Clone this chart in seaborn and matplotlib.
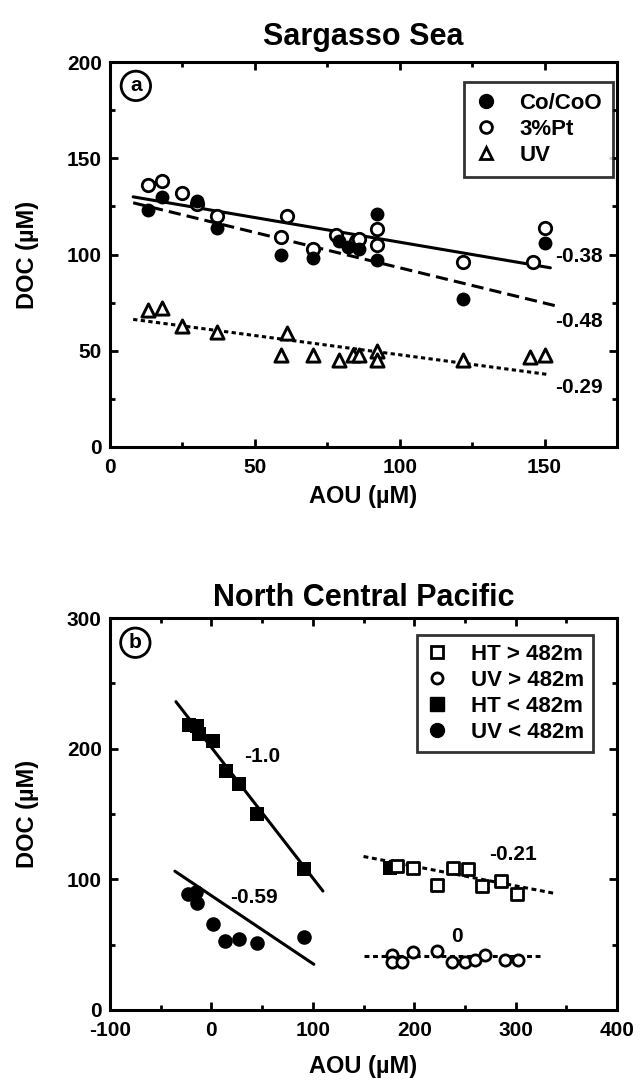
import numpy as np
import pandas as pd
import matplotlib
matplotlib.use("Agg")
import matplotlib.pyplot as plt
import seaborn as sns
from matplotlib.lines import Line2D
from matplotlib.ticker import MultipleLocator

# ---------------- Panel a: Sargasso Sea ----------------
co_aou = [13, 18, 30, 37, 59, 70, 79, 82, 86, 92, 92, 122, 150]
co_doc = [123, 130, 128, 114, 100, 98, 107, 104, 103, 121, 97, 77, 106]

pt_aou = [13, 18, 25, 30, 37, 59, 61, 70, 78, 85, 86, 92, 92, 122, 146, 150]
pt_doc = [136, 138, 132, 126, 120, 109, 120, 103, 110, 107, 108, 113, 105, 96, 96, 114]

uvA_aou = [13, 18, 25, 37, 61, 59, 70, 79, 84, 86, 92, 92, 122, 145, 150]
uvA_doc = [71, 72, 63, 60, 59, 48, 48, 45, 48, 48, 50, 45, 45, 47, 48]

a_fit_names = ["Co/CoO", "3%Pt", "UV"]
a_fit_slope = [-0.256, -0.367, -0.200]
a_fit_intercept = [132.0, 129.8, 67.9]
a_fit_xmin = [8, 8, 8]
a_fit_xmax = [152, 154, 151]
a_fit_labels = ["-0.38", "-0.48", "-0.29"]
a_label_x = [162, 162, 162]
a_label_y = [99, 65, 31]

# ---------------- Panel b: North Central Pacific ----------------
htS_aou = [-22, -14, -12, 2, 14, 27, 45, 91]
htS_doc = [218, 217, 211, 206, 183, 173, 150, 108]

uvS_aou = [-23, -15, -14, 2, 13, 27, 45, 91]
uvS_doc = [89, 90, 82, 66, 53, 54, 51, 56]

htD_aou = [183, 199, 222, 238, 253, 267, 286, 301]
htD_doc = [110, 109, 96, 109, 108, 95, 99, 89]
htS2_aou = [176]
htS2_doc = [109]

uvD_aou = [178, 178, 188, 199, 222, 237, 250, 260, 270, 290, 302]
uvD_doc = [42, 37, 37, 44, 45, 37, 37, 38, 42, 38, 38]

b_fit_slope = [-1.0, -0.52, -0.15, 0.0]
b_fit_intercept = [201.0, 87.5, 140.0, 41.0]
b_fit_xmin = [-35, -36, 150, 150]
b_fit_xmax = [110, 101, 337, 325]
b_fit_labels = ["-1.0", "-0.59", "-0.21", "0"]
b_label_x = [50, 42, 297, 242]
b_label_y = [194, 86, 119, 56]

sns.set_theme(style="ticks")
plt.rcParams["font.family"] = ["Liberation Sans", "DejaVu Sans"]
plt.rcParams["font.weight"] = "bold"
plt.rcParams["axes.labelweight"] = "bold"
plt.rcParams["axes.titleweight"] = "bold"
plt.rcParams["axes.unicode_minus"] = False
for key in ["text.color", "axes.labelcolor", "xtick.color", "ytick.color", "axes.edgecolor"]:
    plt.rcParams[key] = "black"

fig = plt.figure(figsize=(6.41, 10.86), dpi=100)
axA = fig.add_axes([0.1716, 0.5884, 0.7910, 0.3545])
axB = fig.add_axes([0.1716, 0.0700, 0.7910, 0.3609])

K = "black"
LW_SP = 2.2


def style_axes(ax):
    for sp in ax.spines.values():
        sp.set_linewidth(LW_SP)
        sp.set_color(K)
    ax.tick_params(which="both", direction="in", top=True, right=True,
                   width=2.0, colors=K, labelsize=15)
    ax.tick_params(axis="x", which="both", pad=8)
    ax.tick_params(axis="y", which="both", pad=6)
    ax.tick_params(which="major", length=6)
    ax.tick_params(which="minor", length=3.5)
    for lab in ax.get_xticklabels() + ax.get_yticklabels():
        lab.set_fontweight("bold")


def fit_line(ax, slope, icpt, x0, x1, ls):
    xs = np.array([x0, x1], dtype=float)
    ys = icpt + slope * xs
    sns.lineplot(x=xs, y=ys, ax=ax, color=K, linewidth=2.2, linestyle=ls,
                 estimator=None, sort=False, legend=False)


# ---------- Panel a ----------
a_styles = ["-", (0, (4, 2)), (0, (1.4, 1.1))]
for s, b, x0, x1, ls in zip(a_fit_slope, a_fit_intercept, a_fit_xmin, a_fit_xmax, a_styles):
    fit_line(axA, s, b, x0, x1, ls)

sns.scatterplot(x=pt_aou, y=pt_doc, ax=axA, marker="o", s=80, facecolor="white",
                edgecolor=K, linewidth=2.0, zorder=3, legend=False)
sns.scatterplot(x=co_aou, y=co_doc, ax=axA, marker="o", s=100, color=K,
                edgecolor=K, linewidth=0, zorder=4, legend=False)
sns.scatterplot(x=uvA_aou, y=uvA_doc, ax=axA, marker="^", s=90, facecolor="white",
                edgecolor=K, linewidth=2.1, zorder=3, legend=False)

for t, x, y in zip(a_fit_labels, a_label_x, a_label_y):
    axA.text(x, y, t, ha="center", va="center", fontsize=15, fontweight="bold", color=K)

axA.set_xlim(0, 175)
axA.set_ylim(0, 200)
axA.xaxis.set_major_locator(MultipleLocator(50))
axA.xaxis.set_minor_locator(MultipleLocator(25))
axA.yaxis.set_major_locator(MultipleLocator(50))
axA.yaxis.set_minor_locator(MultipleLocator(25))
axA.set_xlabel("AOU (\u00b5M)", fontsize=17, fontweight="bold")
axA.set_ylabel("DOC (\u00b5M)", fontsize=17, fontweight="bold")
axA.set_title("Sargasso Sea", fontsize=22, fontweight="bold", pad=12)
style_axes(axA)
axA.xaxis.set_label_coords(0.5, -0.1)
axA.yaxis.set_label_coords(-0.14, 0.5)

hA = [Line2D([], [], marker="o", ls="none", color=K, markersize=10),
      Line2D([], [], marker="o", ls="none", mfc="white", mec=K, mew=2.0, markersize=8.5),
      Line2D([], [], marker="^", ls="none", mfc="white", mec=K, mew=2.0, markersize=8.5)]
legA = axA.legend(hA, a_fit_names, loc="upper right", bbox_to_anchor=(0.992, 0.948),
                  borderaxespad=0, frameon=True, fancybox=False, fontsize=16,
                  handlelength=1.0, handletextpad=1.0, borderpad=0.5, labelspacing=0.22)
legA.get_frame().set_edgecolor(K)
legA.get_frame().set_linewidth(2.0)
for t in legA.get_texts():
    t.set_fontweight("bold")

axA.text(0.051, 0.938, "a", transform=axA.transAxes, ha="center", va="center",
         fontsize=15, fontweight="bold",
         bbox=dict(boxstyle="circle,pad=0.25", fc="white", ec=K, lw=2.0))

# ---------- Panel b ----------
b_styles = ["-", "-", (0, (1.6, 1.2)), (0, (1.6, 1.2))]
for s, b, x0, x1, ls in zip(b_fit_slope, b_fit_intercept, b_fit_xmin, b_fit_xmax, b_styles):
    fit_line(axB, s, b, x0, x1, ls)

sns.scatterplot(x=htS_aou, y=htS_doc, ax=axB, marker="s", s=110, color=K,
                edgecolor=K, linewidth=0, zorder=4, legend=False)
sns.scatterplot(x=uvS_aou, y=uvS_doc, ax=axB, marker="o", s=110, color=K,
                edgecolor=K, linewidth=0, zorder=4, legend=False)
sns.scatterplot(x=htS2_aou, y=htS2_doc, ax=axB, marker="s", s=110, color=K,
                edgecolor=K, linewidth=0, zorder=3, legend=False)
sns.scatterplot(x=htD_aou, y=htD_doc, ax=axB, marker="s", s=70, facecolor="white",
                edgecolor=K, linewidth=2.0, zorder=4, legend=False)
sns.scatterplot(x=uvD_aou, y=uvD_doc, ax=axB, marker="o", s=65, facecolor="white",
                edgecolor=K, linewidth=2.0, zorder=4, legend=False)

for t, x, y in zip(b_fit_labels, b_label_x, b_label_y):
    axB.text(x, y, t, ha="center", va="center", fontsize=15, fontweight="bold", color=K)

axB.set_xlim(-100, 400)
axB.set_ylim(0, 300)
axB.xaxis.set_major_locator(MultipleLocator(100))
axB.xaxis.set_minor_locator(MultipleLocator(50))
axB.yaxis.set_major_locator(MultipleLocator(100))
axB.yaxis.set_minor_locator(MultipleLocator(50))
axB.set_xlabel("AOU (\u00b5M)", fontsize=17, fontweight="bold")
axB.set_ylabel("DOC (\u00b5M)", fontsize=17, fontweight="bold")
axB.set_title("North Central Pacific", fontsize=22, fontweight="bold", pad=9)
style_axes(axB)
axB.xaxis.set_label_coords(0.5, -0.115)
axB.yaxis.set_label_coords(-0.14, 0.5)

b_names = ["HT > 482m", "UV > 482m", "HT < 482m", "UV < 482m"]
hB = [Line2D([], [], marker="s", ls="none", mfc="white", mec=K, mew=2.0, markersize=8),
      Line2D([], [], marker="o", ls="none", mfc="white", mec=K, mew=2.0, markersize=8),
      Line2D([], [], marker="s", ls="none", color=K, markersize=10),
      Line2D([], [], marker="o", ls="none", color=K, markersize=10)]
legB = axB.legend(hB, b_names, loc="upper right", bbox_to_anchor=(0.953, 0.957),
                  borderaxespad=0, frameon=True, fancybox=False, fontsize=16,
                  handlelength=1.0, handletextpad=1.0, borderpad=0.42, labelspacing=0.22)
legB.get_frame().set_edgecolor(K)
legB.get_frame().set_linewidth(2.0)
for t in legB.get_texts():
    t.set_fontweight("bold")

axB.text(0.05, 0.937, "b", transform=axB.transAxes, ha="center", va="center",
         fontsize=15, fontweight="bold",
         bbox=dict(boxstyle="circle,pad=0.25", fc="white", ec=K, lw=2.0))

fig.savefig("out.png", dpi=100)
